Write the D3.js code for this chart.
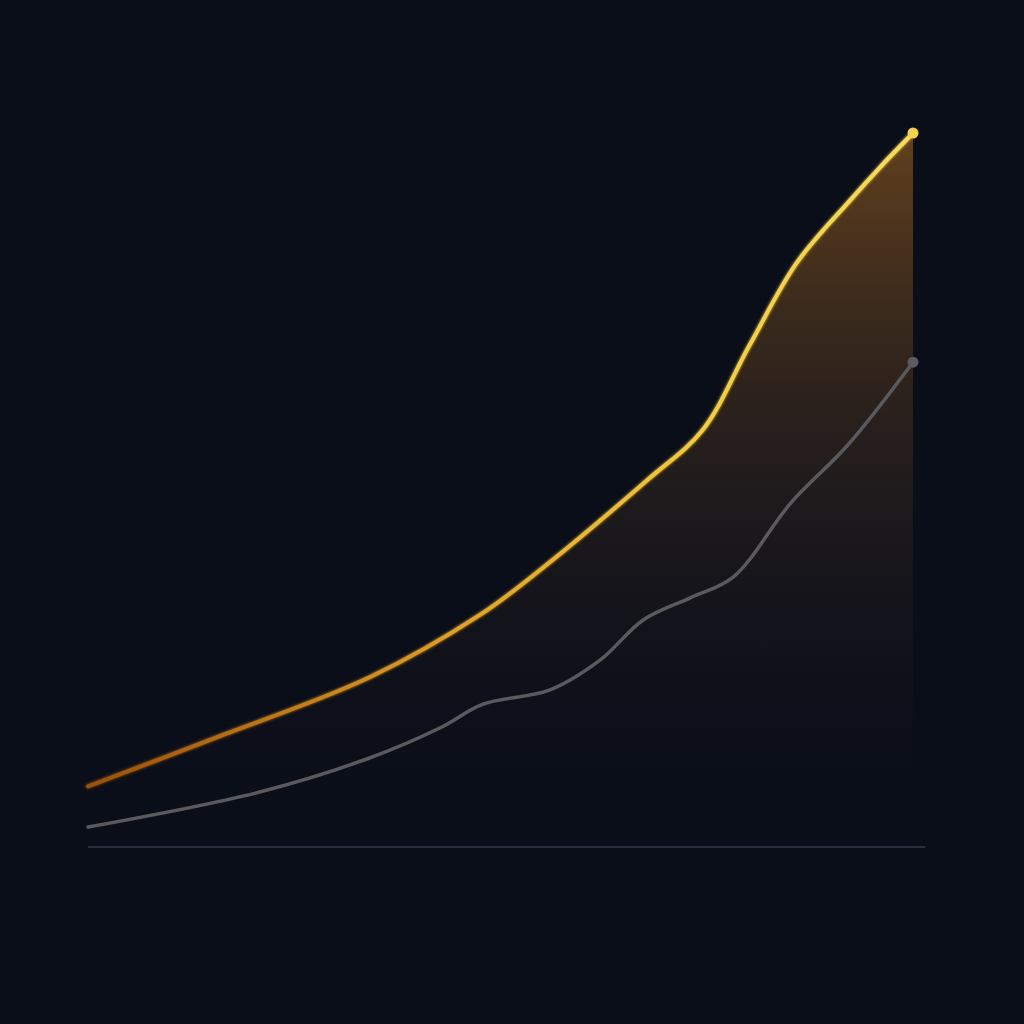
<!DOCTYPE html>
<html>
<head>
<meta charset="utf-8">
<script src="https://d3js.org/d3.v7.min.js"></script>
<style>
  html, body { margin: 0; padding: 0; background: #0a0e19; }
  svg { display: block; }
</style>
</head>
<body>
<svg id="chart" width="1024" height="1024"></svg>
<script>
  // series (x: period position, y: index value)
  const goldX = [0, 14.8, 34.2, 47.5, 54.8, 67.8, 74.5, 80.2, 85.9, 92.4, 96, 100];
  const goldY = [8.5, 15.0, 23.8, 32.5, 38.8, 51.4, 58.4, 70.3, 81.8, 90.6, 95.2, 100];
  const grayX = [0, 20.8, 34.2, 42.7, 47.9, 56, 62.1, 67.3, 73, 78.2, 85.2, 92.1, 100];
  const grayY = [2.8, 7.7, 12.5, 16.7, 20.0, 22.0, 26.2, 31.8, 34.9, 37.8, 48.2, 56.3, 67.9];

  const svg = d3.select('#chart');
  const x = d3.scaleLinear().domain([0, 100]).range([88, 913]);
  const y = d3.scaleLinear().domain([0, 100]).range([847, 133]);

  const gold = goldX.map((v, i) => ({x: v, y: goldY[i]}));
  const gray = grayX.map((v, i) => ({x: v, y: grayY[i]}));

  const defs = svg.append('defs');
  const lineGrad = defs.append('linearGradient')
      .attr('id', 'goldStroke')
      .attr('gradientUnits', 'userSpaceOnUse')
      .attr('x1', x(0)).attr('x2', x(100)).attr('y1', 0).attr('y2', 0);
  lineGrad.append('stop').attr('offset', 0).attr('stop-color', '#9a4f0c');
  lineGrad.append('stop').attr('offset', 0.45).attr('stop-color', '#e0a126');
  lineGrad.append('stop').attr('offset', 0.75).attr('stop-color', '#f3cc3c');
  lineGrad.append('stop').attr('offset', 1).attr('stop-color', '#f8dc5a');

  const areaGrad = defs.append('linearGradient')
      .attr('id', 'goldFill')
      .attr('gradientUnits', 'userSpaceOnUse')
      .attr('x1', 0).attr('x2', 0).attr('y1', y(100)).attr('y2', y(5));
  areaGrad.append('stop').attr('offset', 0).attr('stop-color', '#a8691f').attr('stop-opacity', 0.55);
  areaGrad.append('stop').attr('offset', 0.45).attr('stop-color', '#5a3d22').attr('stop-opacity', 0.35);
  areaGrad.append('stop').attr('offset', 1).attr('stop-color', '#1a1a22').attr('stop-opacity', 0);

  const glow = defs.append('filter').attr('id', 'glow')
      .attr('x', '-10%').attr('y', '-10%').attr('width', '120%').attr('height', '120%');
  glow.append('feGaussianBlur').attr('stdDeviation', 1.5).attr('result', 'b');
  const merge = glow.append('feMerge');
  merge.append('feMergeNode').attr('in', 'b');
  merge.append('feMergeNode').attr('in', 'SourceGraphic');

  const curve = d3.curveCatmullRom.alpha(0.5);
  const line = d3.line().x(d => x(d.x)).y(d => y(d.y)).curve(curve);
  const area = d3.area().x(d => x(d.x)).y0(y(0)).y1(d => y(d.y)).curve(curve);

  svg.append('path')
      .datum(gold)
      .attr('d', area)
      .attr('fill', 'url(#goldFill)');

  svg.append('line')
      .attr('x1', x(0)).attr('x2', x(101.5))
      .attr('y1', y(0)).attr('y2', y(0))
      .attr('stroke', '#323a4b')
      .attr('stroke-width', 1.5);

  svg.append('path')
      .datum(gray)
      .attr('d', line)
      .attr('fill', 'none')
      .attr('stroke', '#5a5a5e')
      .attr('stroke-width', 3.5)
      .attr('stroke-linecap', 'round');

  svg.append('path')
      .datum(gold)
      .attr('d', line)
      .attr('fill', 'none')
      .attr('stroke', 'url(#goldStroke)')
      .attr('stroke-width', 4)
      .attr('stroke-linecap', 'round')
      .attr('filter', 'url(#glow)');

  const lastGray = gray[gray.length - 1];
  svg.append('circle')
      .attr('cx', x(lastGray.x)).attr('cy', y(lastGray.y))
      .attr('r', 5.5).attr('fill', '#5c5c60');

  const lastGold = gold[gold.length - 1];
  svg.append('circle')
      .attr('cx', x(lastGold.x)).attr('cy', y(lastGold.y))
      .attr('r', 5.5).attr('fill', '#f5d24a');
</script>
</body>
</html>
